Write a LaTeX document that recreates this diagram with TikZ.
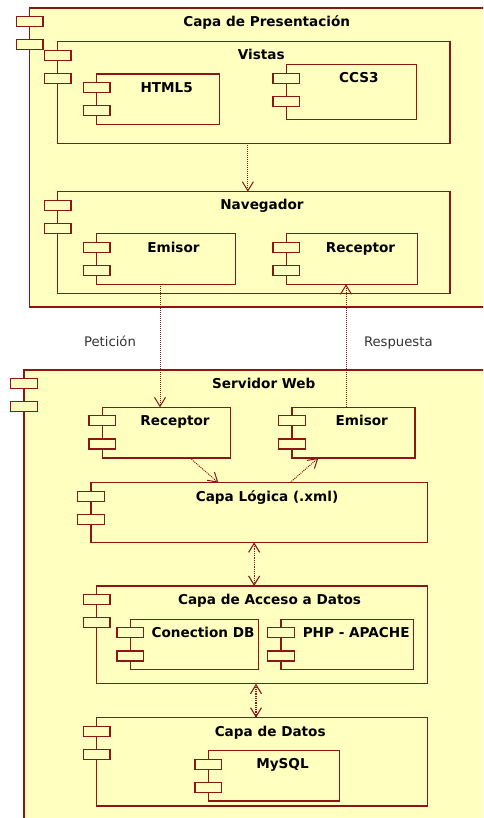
\documentclass[tikz,border=0pt]{standalone}
\usepackage{fontspec}
\setmainfont{DejaVu Sans}
\usepackage{tikz}
\usetikzlibrary{arrows.meta}
\usepackage{xcolor}

\definecolor{compfill}{RGB}{255,255,192}
\definecolor{compline}{RGB}{140,22,22}

% two small port boxes on the left edge of a component
\newcommand{\compports}[1]{%
  \draw[port] ([xshift=-13.4pt,yshift=-8.5pt]#1.north west) rectangle ++(26.7pt,-10pt);
  \draw[port] ([xshift=-13.4pt,yshift=-31.7pt]#1.north west) rectangle ++(26.7pt,-10pt);}

\begin{document}
\begin{tikzpicture}[x=1pt,y=-1pt,
  comp/.style={draw=compline,fill=compfill,line width=1.2pt,rectangle,inner sep=0pt,outer sep=0pt,anchor=north west},
  port/.style={draw=compline,fill=compfill,line width=1.2pt},
  title/.style={anchor=base,font=\bfseries\fontsize{13.6}{16}\selectfont},
  lbl/.style={anchor=base,text=black!80,font=\fontsize{13.2}{16}\selectfont},
  dep/.style={compline,line width=1pt,dash pattern=on 1pt off 1pt,-{Straight Barb[length=9pt,width=11pt]}},
  both/.style={compline,line width=1.1pt,dash pattern=on 1pt off 0.8pt,{Straight Barb[length=9pt,width=11pt]}-{Straight Barb[length=9pt,width=11pt]}}]
\clip (0,0) rectangle (483,818);
\useasboundingbox (0,0) rectangle (483,818);

% presentation layer
\node[comp,minimum width=470pt,minimum height=299pt] (pres) at (29.7,8) {};
\compports{pres}
\node[title] (pres-t) at (266.7,26.7) {Capa de Presentación};

\node[comp,minimum width=392.3pt,minimum height=101.6pt] (vistas) at (57.7,41.7) {};
\compports{vistas}
\node[title] (vistas-t) at (261.3,59.3) {Vistas};

\node[comp,minimum width=123pt,minimum height=50.3pt] (html) at (96.7,74) {};
\compports{html}
\node[title] (html-t) at (166.7,92.7) {HTML5};

\node[comp,minimum width=130pt,minimum height=54.6pt] (ccs) at (286.3,64.7) {};
\compports{ccs}
\node[title] (ccs-t) at (358.8,82.7) {CCS3};

\node[comp,minimum width=392.3pt,minimum height=102pt] (nav) at (57.7,191.7) {};
\compports{nav}
\node[title] (nav-t) at (262,209.3) {Navegador};

\node[comp,minimum width=138.6pt,minimum height=50.6pt] (emi1) at (96.7,233.7) {};
\compports{emi1}
\node[title] (emi1-t) at (173.5,252.3) {Emisor};

\node[comp,minimum width=131.4pt,minimum height=50.6pt] (rec1) at (286.3,233.7) {};
\compports{rec1}
\node[title] (rec1-t) at (360.5,252.3) {Receptor};

% web server
\node[comp,minimum width=476pt,minimum height=460pt] (srv) at (24,370) {};
\compports{srv}
\node[title] (srv-t) at (263.8,388.3) {Servidor Web};

\node[comp,minimum width=128.4pt,minimum height=50.7pt] (rec2) at (102.3,407.3) {};
\compports{rec2}
\node[title] (rec2-t) at (175,425.3) {Receptor};

\node[comp,minimum width=123pt,minimum height=50.7pt] (emi2) at (292,407.3) {};
\compports{emi2}
\node[title] (emi2-t) at (361.8,425.3) {Emisor};

\node[comp,minimum width=336.3pt,minimum height=59.6pt] (logica) at (91,482.7) {};
\compports{logica}
\node[title] (logica-t) at (267,501.7) {Capa Lógica (.xml)};

\node[comp,minimum width=330.6pt,minimum height=97.7pt] (acceso) at (96.7,586) {};
\compports{acceso}
\node[title] (acceso-t) at (269.5,604.3) {Capa de Acceso a Datos};

\node[comp,minimum width=128.4pt,minimum height=50pt] (conex) at (130.3,619.3) {};
\compports{conex}
\node[title] (conex-t) at (203,637.3) {Conection DB};

\node[comp,minimum width=132.7pt,minimum height=50pt] (php) at (281,619.3) {};
\compports{php}
\node[title] (php-t) at (356.2,637.3) {PHP - APACHE};

\node[comp,minimum width=330.6pt,minimum height=88.3pt] (datos) at (96.7,717.7) {};
\compports{datos}
\node[title] (datos-t) at (270.2,736.7) {Capa de Datos};

\node[comp,minimum width=131pt,minimum height=50.3pt] (mysql) at (208.3,750.7) {};
\compports{mysql}
\node[title] (mysql-t) at (282.5,768.7) {MySQL};

% connectors
\draw[dep] ([xshift=-6pt]vistas.south) -- ([xshift=-6pt]vistas.south |- nav.north);
\draw[dep] ([xshift=-6pt]emi1.south) -- ([xshift=-6pt]emi1.south |- rec2.north);
\draw[dep] ([xshift=-7.5pt]emi2.north) -- ([xshift=-7.5pt]emi2.north |- rec1.south);
\draw[dep] ([xshift=23.5pt]rec2.south) -- ([xshift=-40.8pt]logica.north);
\draw[dep] ([xshift=30.8pt]logica.north) -- ([xshift=-35.2pt]emi2.south);
\draw[both] ([xshift=-5pt]logica.south) -- ([xshift=-5pt]logica.south |- acceso.north);
\draw[both] ([xshift=-6pt]acceso.south) -- ([xshift=-6pt]acceso.south |- datos.north);

\node[lbl] (pet) at (110,346.7) {Petición};
\node[lbl] (resp) at (398.3,346.7) {Respuesta};
\end{tikzpicture}
\end{document}
